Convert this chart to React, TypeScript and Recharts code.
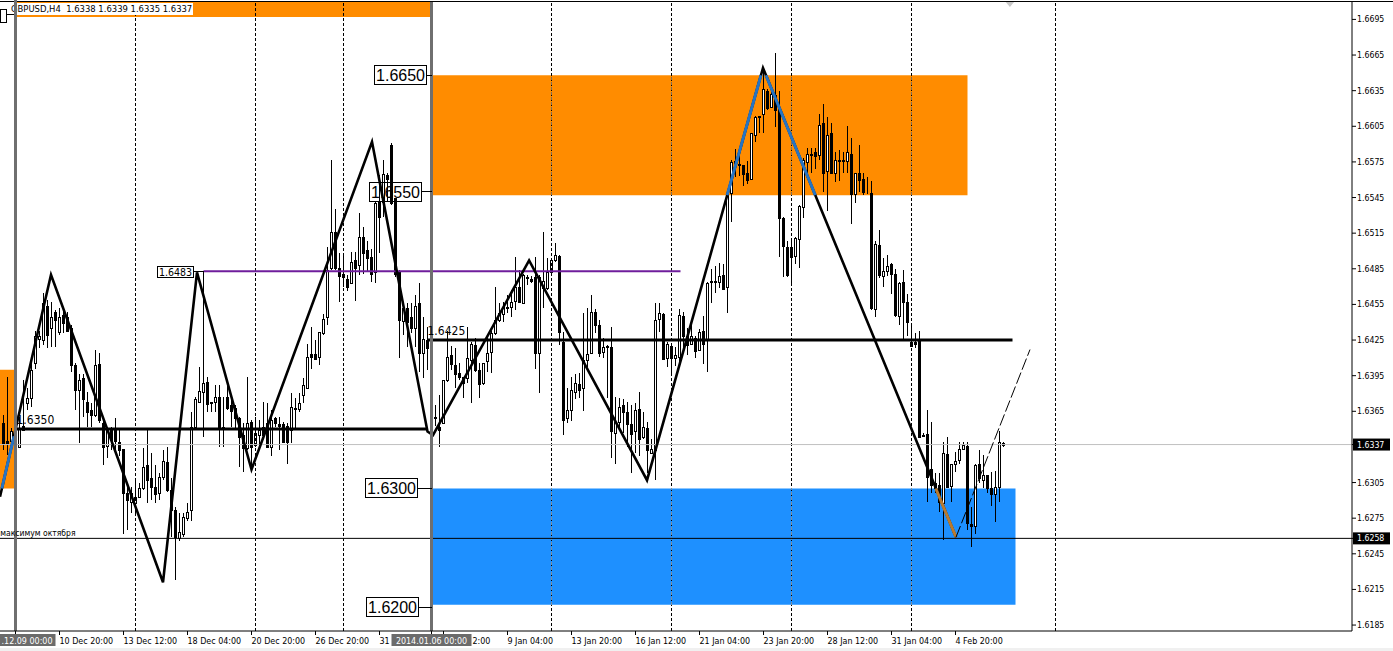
import React from 'react';
import {
  Bar,
  ComposedChart,
  Line,
  ReferenceArea,
  ReferenceDot,
  ReferenceLine,
  XAxis,
  YAxis,
} from 'recharts';

// open, high, low, close as the last four digits of 1.xxxx
const decBars = [
  [6355,6362,6332,6338],[6340,6394,6328,6338],[6340,6351,6337,6348],[6349,6352,6340,6344],[6335,6360,6334,6350],[6353,6391,6348,6349],[6372,6385,6366,6376],[6376,6406,6369,6400],[6406,6433,6401,6428],[6426,6433,6418,6428],
  [6425,6465,6421,6456],[6454,6459,6418,6429],[6435,6457,6419,6444],[6449,6450,6419,6442],[6432,6452,6429,6444],[6446,6453,6431,6439],[6444,6449,6432,6433],[6435,6438,6398,6404],[6404,6406,6366,6383],[6383,6396,6338,6391],
  [6393,6396,6360,6375],[6373,6381,6352,6364],[6366,6372,6352,6362],[6362,6417,6360,6404],[6405,6414,6355,6358],[6355,6360,6320,6335],[6336,6352,6326,6349],[6349,6352,6332,6341],[6349,6359,6332,6340],[6339,6349,6327,6332],
  [6333,6333,6262,6296],[6296,6305,6265,6290],[6289,6301,6279,6296],[6288,6307,6278,6293],[6293,6305,6292,6300],[6300,6334,6299,6318],[6320,6349,6288,6307],[6309,6330,6290,6301],[6301,6320,6288,6295],[6296,6313,6290,6310],
  [6310,6332,6307,6323],[6322,6335,6297,6299],[6299,6309,6259,6282],[6282,6284,6223,6259],[6258,6279,6256,6263],[6262,6279,6259,6276],[6275,6288,6273,6280],[6282,6364,6273,6352],[6352,6377,6351,6375],[6373,6402,6373,6382],
  [6381,6482,6343,6389],[6390,6394,6364,6371],[6373,6373,6364,6372],[6373,6387,6364,6377],[6377,6387,6335,6351],[6350,6377,6335,6352],[6377,6387,6366,6368],[6370,6377,6352,6365],[6368,6370,6349,6359],[6359,6360,6318,6343],
  [6345,6355,6314,6334],[6334,6394,6332,6355],[6356,6358,6314,6335],[6337,6360,6335,6347],[6345,6358,6335,6349],[6352,6373,6343,6345],[6355,6372,6334,6335],[6335,6366,6327,6358],[6359,6360,6352,6355],[6354,6360,6332,6353],
  [6354,6356,6338,6339],[6353,6355,6321,6339],[6349,6380,6338,6369],[6367,6376,6351,6368],[6367,6380,6364,6372],[6379,6393,6372,6387],[6385,6422,6384,6411],[6413,6436,6401,6411],[6413,6425,6408,6409],[6411,6432,6404,6432],
  [6431,6447,6429,6443],[6444,6503,6438,6484],[6486,6577,6484,6516],[6516,6535,6484,6486],[6486,6498,6457,6479],[6481,6497,6470,6478],[6476,6480,6466,6470],[6473,6499,6472,6491],[6492,6499,6458,6486],[6488,6532,6480,6512],
  [6512,6520,6481,6498],[6501,6508,6482,6494],[6495,6502,6474,6481],[6482,6541,6473,6540],[6541,6564,6498,6529],[6541,6577,6529,6565],[6564,6566,6541,6561],[6589,6591,6539,6540],[6545,6545,6478,6481],[6482,6484,6410,6442],
  [6441,6457,6429,6452],[6452,6456,6419,6440],[6444,6456,6431,6435],[6435,6463,6419,6454],[6456,6473,6398,6414],[6414,6444,6393,6426],[6425,6436,6400,6418],
];

const janBars = [
  [6424,6429,6396,6421],[6360,6370,6353,6359],[6352,6379,6335,6349],[6355,6391,6354,6391],[6391,6433,6390,6411],[6412,6420,6400,6405],[6404,6418,6385,6396],[6397,6406,6391,6394],[6394,6394,6376,6389],[6393,6436,6389,6410],
  [6408,6423,6372,6422],[6421,6427,6398,6400],[6400,6406,6376,6388],[6389,6406,6387,6406],[6407,6429,6398,6414],[6415,6433,6397,6431],[6431,6470,6429,6442],[6442,6456,6440,6448],[6447,6457,6440,6453],[6453,6463,6448,6452],
  [6453,6467,6444,6457],[6458,6495,6450,6470],[6470,6484,6456,6457],[6456,6481,6456,6480],[6478,6480,6471,6477],[6476,6479,6473,6475],[6478,6495,6401,6414],[6414,6480,6380,6478],[6469,6516,6452,6475],[6469,6494,6467,6482],
  [6482,6494,6481,6492],[6492,6507,6491,6497],[6496,6497,6421,6432],[6423,6432,6345,6358],[6359,6385,6355,6366],[6366,6394,6357,6383],[6381,6396,6375,6389],[6388,6397,6376,6383],[6385,6448,6365,6408],[6408,6452,6402,6413],
  [6414,6463,6413,6449],[6449,6451,6431,6438],[6438,6442,6411,6414],[6415,6427,6410,6419],[6420,6421,6376,6419],[6419,6436,6326,6348],[6347,6377,6321,6356],[6356,6376,6349,6369],[6370,6375,6347,6364],[6364,6373,6335,6354],
  [6354,6370,6313,6346],[6348,6372,6330,6366],[6367,6381,6327,6342],[6343,6364,6342,6352],[6351,6356,6313,6332],[6330,6342,6330,6333],[6332,6456,6307,6442],[6443,6456,6432,6448],[6447,6448,6408,6409],[6410,6423,6402,6422],
  [6420,6421,6395,6410],[6410,6419,6403,6412],[6411,6451,6402,6446],[6445,6449,6414,6428],[6428,6435,6412,6421],[6422,6438,6421,6428],[6427,6428,6410,6416],[6417,6434,6416,6432],[6433,6445,6405,6422],[6425,6474,6398,6473],
  [6474,6485,6456,6475],[6475,6487,6465,6474],[6474,6490,6469,6479],[6480,6489,6467,6468],[6470,6550,6448,6549],[6549,6577,6524,6575],[6576,6586,6562,6574],[6573,6581,6563,6572],[6572,6572,6555,6565],[6566,6576,6556,6560],
  [6561,6599,6560,6599],[6598,6614,6592,6613],[6614,6614,6599,6613],[6615,6651,6599,6636],[6635,6636,6619,6620],[6621,6635,6620,6632],[6631,6667,6604,6619],[6620,6635,6495,6528],[6528,6529,6478,6504],[6503,6508,6478,6480],
  [6503,6508,6471,6495],[6496,6512,6489,6511],[6510,6539,6486,6538],[6537,6578,6528,6577],[6575,6587,6566,6582],[6581,6587,6566,6582],[6583,6587,6569,6580],[6581,6615,6577,6606],[6608,6624,6550,6566],[6567,6613,6534,6598],
  [6599,6608,6565,6566],[6566,6583,6558,6577],[6577,6585,6559,6576],[6577,6583,6566,6576],[6576,6605,6566,6583],[6582,6595,6523,6548],[6548,6566,6540,6566],[6566,6589,6550,6560],[6561,6566,6547,6550],[6549,6562,6548,6549],
  [6549,6559,6450,6452],[6451,6508,6444,6506],[6505,6518,6477,6480],[6479,6494,6470,6483],[6483,6497,6479,6487],[6489,6490,6464,6481],[6481,6485,6444,6446],[6445,6474,6438,6473],[6474,6484,6425,6457],[6457,6464,6428,6440],
  [6420,6439,6420,6423],[6423,6431,6418,6422],[6424,6433,6343,6343],[6345,6347,6343,6344],[6346,6366,6289,6310],[6316,6356,6296,6303],[6305,6313,6296,6300],[6303,6313,6280,6289],
];

const febBars = [
  [6288,6339,6257,6330],[6329,6343,6300,6301],[6302,6321,6289,6321],[6321,6331,6314,6323],[6324,6339,6321,6333],[6333,6339,6332,6337],[6336,6339,6265,6271],[6270,6284,6251,6268],[6268,6321,6262,6320],[6321,6332,6305,6309],
  [6307,6328,6300,6311],[6311,6311,6296,6300],[6300,6314,6285,6295],[6295,6315,6272,6301],[6301,6348,6289,6339],[6338,6339,6335,6337],
];

const bars = [...decBars, ...janBars, ...febBars].map((r, i) => ({
  i,
  open: 1 + r[0] / 10000,
  high: 1 + r[1] / 10000,
  low: 1 + r[2] / 10000,
  close: 1 + r[3] / 10000,
}));

// zigzag turning points, bar number and price
const zigzag = [
  { i: -0.875, p: 1.6293 }, { i: 11.875, p: 1.648 }, { i: 39.875, p: 1.6221 }, { i: 48.375, p: 1.6482 },
  { i: 62, p: 1.6316 }, { i: 92.125, p: 1.6592 }, { i: 106, p: 1.6348 }, { i: 107.375, p: 1.6345 },
  { i: 131.4, p: 1.6492 }, { i: 160.875, p: 1.6307 }, { i: 189.875, p: 1.6654 }, { i: 238.125, p: 1.6259 },
];
const zigzagBlueA = [{ i: -0.415, p: 1.63 }, { i: 2.625, p: 1.6344 }];
const zigzagBlueB = [{ i: 180.9, p: 1.6547 }, { i: 189.375, p: 1.6648 }];
const zigzagBlueC = [{ i: 190.6, p: 1.6648 }, { i: 202.95, p: 1.6547 }];
const zigzagBrown = [{ i: 233.075, p: 1.63 }, { i: 238.125, p: 1.6259 }];
const projection = [{ i: 238.125, p: 1.6259 }, { i: 256.625, p: 1.6417 }];

const dashedBars = [33, 63, 85, 137, 167, 197, 227, 263];
const orangeDashes = [137, 167, 197, 227];
const blueDashes = [137, 167, 197, 227];

const priceTicks = [
  1.6695, 1.6665, 1.6635, 1.6605, 1.6575, 1.6545, 1.6515, 1.6485, 1.6455, 1.6425,
  1.6395, 1.6365, 1.6305, 1.6275, 1.6245, 1.6215, 1.6185,
];
const priceTags = [1.6337, 1.6258];

// labels half hidden by the grey time tags keep only their visible part
const timeLabels: [number, string, number][] = [
  [14, '10 Dec 20:00', 0], [30, '13 Dec 12:00', 0], [46, '18 Dec 04:00', 0], [62, '20 Dec 20:00', 0], [78, '26 Dec 20:00', 0],
  [94, '31', 0], [110, '2:00', 29], [126, '9 Jan 04:00', 0], [142, '13 Jan 20:00', 0], [158, '16 Jan 12:00', 0],
  [174, '21 Jan 04:00', 0], [190, '23 Jan 20:00', 0], [206, '28 Jan 12:00', 0], [222, '31 Jan 04:00', 0], [238, '4 Feb 20:00', 0],
];
const timeTags: [number, string][] = [[3, '.12.09 00:00'], [107, '2014.01.06 00:00']];

const levelBoxes = [
  { p: 1.6648, label: '1.6650', gap: 5 },
  { p: 1.655, label: '1.6550', gap: 10 },
  { p: 1.63, label: '1.6300', gap: 14 },
  { p: 1.62, label: '1.6200', gap: 13 },
];

const FONT = '"Liberation Sans", Arial, sans-serif';
const SMALL_FONT = '"DejaVu Sans Condensed", "DejaVu Sans", sans-serif';
const ORANGE = '#ff8c00';
const BLUE = '#1e90ff';

const Candle = (props: any) => {
  const { x, y, width, height, payload } = props;
  const cx = x + width / 2;
  const perPrice = height / (payload.high - payload.low);
  const yOpen = y + (payload.high - payload.open) * perPrice;
  const yClose = y + (payload.high - payload.close) * perPrice;
  const up = payload.close >= payload.open;
  const top = Math.round(Math.min(yOpen, yClose)) + 0.5;
  const bottom = Math.round(Math.max(yOpen, yClose)) + 0.5;
  return (
    <g shapeRendering="crispEdges">
      <line x1={cx} x2={cx} y1={y} y2={y + height} stroke="#000" />
      <rect x={cx - 1} y={top} width={2} height={bottom - top} fill={up ? '#fff' : '#000'} stroke="#000" />
    </g>
  );
};

const TimeTick = (props: any) => {
  const { x, y, payload } = props;
  const tag = timeTags.find(t => t[0] === payload.value);
  if (tag) {
    const isFirst = tag[0] === 3;
    return (
      <g>
        <rect x={x - 40} y={y - 2} width={80} height={12} fill="#6b6b6b" />
        <text
          x={isFirst ? x + 37 : x}
          y={y + 8}
          textAnchor={isFirst ? 'end' : 'middle'}
          fontSize={8.9}
          fontFamily={SMALL_FONT}
          fill="#fff"
        >
          {tag[1]}
        </text>
      </g>
    );
  }
  const label = timeLabels.find(t => t[0] === payload.value);
  if (!label) return null;
  return (
    <text x={x + label[2]} y={y + 8} fontSize={8.9} fontFamily={SMALL_FONT} fill="#000">{label[1]}</text>
  );
};

const PriceTick = (props: any) => {
  const { x, y, payload } = props;
  const isTag = priceTags.includes(payload.value);
  return (
    <g>
      {isTag && <rect x={x - 4} y={y - 6} width={37} height={12} fill="#000" />}
      <text x={x} y={y + 3} fontSize={8.7} fontFamily={SMALL_FONT} fill={isTag ? '#fff' : '#000'}>
        {payload.value.toFixed(4)}
      </text>
    </g>
  );
};

const LevelBox = (props: any) => {
  const { cx, cy, label, gap } = props;
  const right = cx - gap;
  return (
    <g shapeRendering="crispEdges">
      <rect x={right - 52} y={cy - 9.5} width={52} height={19} fill="none" stroke="#000" />
      <line x1={right} x2={cx} y1={cy} y2={cy} stroke="#000" />
      <text x={right - 26} y={cy + 6} textAnchor="middle" fontSize={16} fontFamily={FONT} fill="#000" style={{ shapeRendering: 'auto' }}>
        {label}
      </text>
    </g>
  );
};

const App = () => {
  const segment = (i: number, a: number, b: number) => [{ x: i, y: a }, { x: i, y: b }];
  return (
    <div style={{ position: 'absolute', left: 0, top: 0, width: 1393, height: 651, background: '#fff', overflow: 'hidden' }}>
      <ComposedChart width={1393} height={651} data={bars} margin={{ top: 1, right: 0, bottom: 0, left: 0 }}>
        <XAxis
          type="number"
          dataKey="i"
          domain={[-0.875, 337.125]}
          allowDataOverflow
          ticks={[...timeLabels.map(t => t[0]), ...timeTags.map(t => t[0])]}
          tick={<TimeTick />}
          tickSize={4}
          tickMargin={1}
          height={20}
          stroke="#000"
          interval={0}
        />
        <YAxis
          orientation="right"
          domain={[1.618, 1.67105]}
          allowDataOverflow
          ticks={[...priceTicks, ...priceTags]}
          tick={<PriceTick />}
          tickSize={4}
          tickMargin={1}
          width={41}
          stroke="#000"
          interval={0}
        />

        {dashedBars.map(i => (
          <ReferenceLine key={i} x={i} stroke="#000" strokeDasharray="3 2" shapeRendering="crispEdges" />
        ))}
        <ReferenceArea x1={3} x2={107} y1={1.6697} y2={1.67105} fill={ORANGE} fillOpacity={1} stroke="none" />
        <ReferenceArea x1={-0.875} x2={2.625} y1={1.63} y2={1.64} fill={ORANGE} fillOpacity={1} stroke="none" />
        <ReferenceArea x1={107} x2={241} y1={1.6547} y2={1.6648} fill={ORANGE} fillOpacity={1} stroke="none" />
        <ReferenceArea x1={107} x2={253} y1={1.6202} y2={1.63} fill={BLUE} fillOpacity={1} stroke="none" />
        {orangeDashes.map(i => (
          <ReferenceLine key={i} segment={segment(i, 1.6547, 1.6648)} stroke="#80705a" strokeDasharray="3 2" shapeRendering="crispEdges" />
        ))}
        {blueDashes.map(i => (
          <ReferenceLine key={i} segment={segment(i, 1.6202, 1.63)} stroke="#7f8a96" strokeDasharray="3 2" shapeRendering="crispEdges" />
        ))}

        <ReferenceLine y={1.6337} stroke="#c0c0c0" />
        <ReferenceLine y={1.6258} stroke="#000" />

        <Bar dataKey={(d: any) => [d.low, d.high]} barSize={3} shape={<Candle />} isAnimationActive={false} />

        <ReferenceLine segment={[{ x: 50, y: 1.6483 }, { x: 169.25, y: 1.6483 }]} stroke="#6f1e9c" strokeWidth={2} />
        <ReferenceLine segment={[{ x: 3, y: 1.635 }, { x: 106, y: 1.635 }]} stroke="#000" strokeWidth={3} />
        <ReferenceLine segment={[{ x: 106, y: 1.6425 }, { x: 252.25, y: 1.6425 }]} stroke="#000" strokeWidth={3} />

        <Line data={zigzag} dataKey="p" stroke="#000" strokeWidth={2.6} dot={false} activeDot={false} isAnimationActive={false} />
        <Line data={zigzagBlueA} dataKey="p" stroke="#2674c4" strokeWidth={3} dot={false} activeDot={false} isAnimationActive={false} />
        <Line data={zigzagBlueB} dataKey="p" stroke="#2674c4" strokeWidth={3} dot={false} activeDot={false} isAnimationActive={false} />
        <Line data={zigzagBlueC} dataKey="p" stroke="#2674c4" strokeWidth={3} dot={false} activeDot={false} isAnimationActive={false} />
        <Line data={zigzagBrown} dataKey="p" stroke="#b87a30" strokeWidth={3} dot={false} activeDot={false} isAnimationActive={false} />
        <Line data={projection} dataKey="p" stroke="#000" strokeWidth={1} strokeDasharray="12 3" dot={false} activeDot={false} isAnimationActive={false} />

        <ReferenceLine x={3} stroke="#6f6f6f" strokeWidth={3} />
        <ReferenceLine x={107} stroke="#6f6f6f" strokeWidth={3} />

        {levelBoxes.map(b => (
          <ReferenceDot key={b.label} x={107} y={b.p} ifOverflow="visible" shape={<LevelBox label={b.label} gap={b.gap} />} />
        ))}
        <ReferenceDot
          x={50}
          y={1.6483}
          ifOverflow="visible"
          shape={(p: any) => (
            <g>
              <rect x={p.cx - 46} y={p.cy - 4.5} width={36} height={11} fill="#fff" stroke="#000" shapeRendering="crispEdges" />
              <line x1={p.cx - 10} x2={p.cx} y1={p.cy} y2={p.cy} stroke="#000" shapeRendering="crispEdges" />
              <text x={p.cx - 28} y={p.cy + 5} textAnchor="middle" fontSize={10.5} fontFamily={SMALL_FONT} fill="#000">1.6483</text>
            </g>
          )}
        />
        <ReferenceDot
          x={106}
          y={1.6425}
          ifOverflow="visible"
          shape={(p: any) => <text x={p.cx} y={p.cy - 5} fontSize={12} fontFamily={SMALL_FONT} fill="#000">1.6425</text>}
        />
        <ReferenceDot
          x={3}
          y={1.635}
          ifOverflow="visible"
          shape={(p: any) => <text x={p.cx + 1} y={p.cy - 5} fontSize={12} fontFamily={SMALL_FONT} fill="#000">1.6350</text>}
        />
        <ReferenceDot
          x={18}
          y={1.6258}
          ifOverflow="visible"
          shape={(p: any) => <text x={p.cx} y={p.cy - 2} textAnchor="end" fontSize={8.5} fontFamily={SMALL_FONT} fill="#000">максимум октября</text>}
        />
        <ReferenceDot
          x={251.6}
          y={1.67105}
          ifOverflow="visible"
          shape={(p: any) => <polygon points={`${p.cx - 5},${p.cy} ${p.cx + 5},${p.cy} ${p.cx},${p.cy + 6}`} fill="#c8c8c8" />}
        />
      </ComposedChart>

      <div style={{ position: 'absolute', left: 0, top: 1, width: 1393, height: 1, background: '#000' }} />
      <div style={{ position: 'absolute', left: 10, top: 3, height: 12, lineHeight: '12px', padding: '0 1px', background: '#fff', font: `9.4px ${SMALL_FONT}`, whiteSpace: 'pre' }}>
        GBPUSD,H4  1.6338 1.6339 1.6335 1.6337
      </div>
      <div style={{ position: 'absolute', left: 14, top: 0, width: 3, height: 20, background: '#6f6f6f' }} />
      <div style={{ position: 'absolute', left: 0, top: 9, width: 5, height: 12, border: '1px solid #000', background: '#fff' }} />
      <div style={{ position: 'absolute', left: 6, top: 14, width: 8, height: 1, background: '#000' }} />
      <div style={{ position: 'absolute', left: 0, top: 648, width: 1393, height: 3, background: '#f0f0f0' }} />
    </div>
  );
};

export default App;
